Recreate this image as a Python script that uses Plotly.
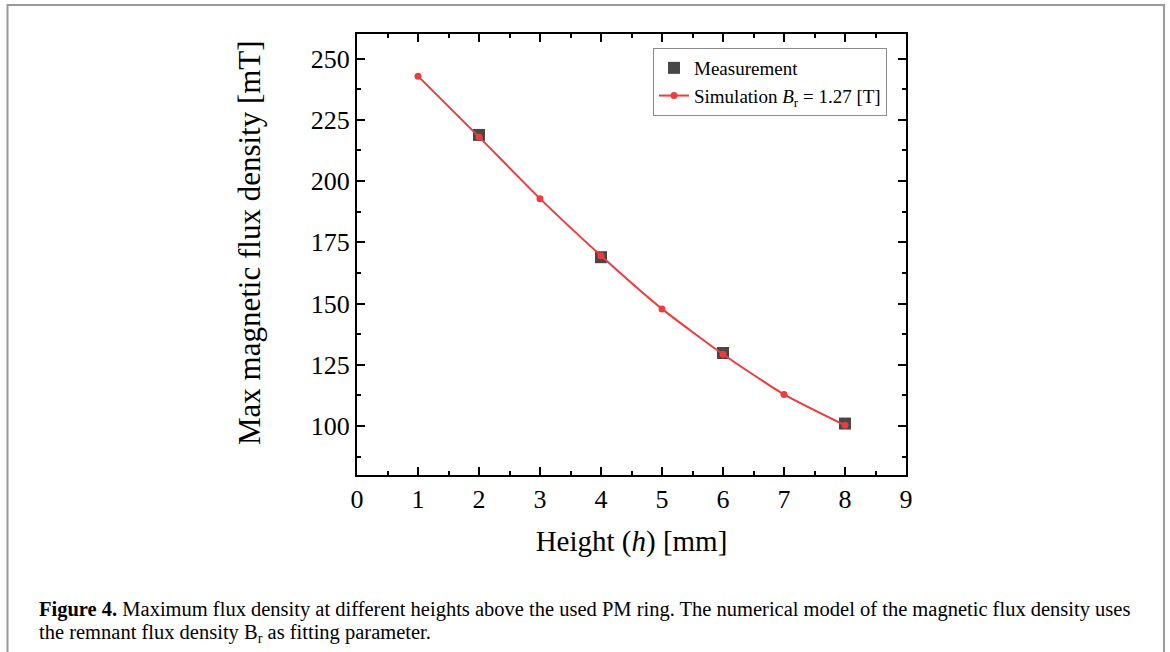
import plotly.graph_objects as go

# Heights above the PM ring [mm]
sim_height = [1, 2, 3, 4, 5, 6, 7, 8]
sim_flux = [242.8, 218.0, 192.8, 169.5, 147.8, 129.3, 112.9, 100.3]

meas_height = [2, 4, 6, 8]
meas_flux = [218.8, 168.9, 129.8, 101.0]

x_ticks = [0, 1, 2, 3, 4, 5, 6, 7, 8, 9]
y_ticks = [100, 125, 150, 175, 200, 225, 250]

W, H = 1170, 652
L, R, T, B = 357, 906, 34, 475
SERIF = "Liberation Serif, Times New Roman, serif"


def px_x(px):
    return (px - L) / (R - L)


def px_y(py):
    return (B - py) / (B - T)


fig = go.Figure()

fig.add_trace(go.Scatter(
    x=meas_height, y=meas_flux, mode="markers", name="Measurement",
    marker=dict(symbol="square", size=12, color="#474747"),
))
fig.add_trace(go.Scatter(
    x=sim_height, y=sim_flux, mode="lines+markers",
    name="Simulation <i>B</i><sub>r</sub> = 1.27 [T]",
    line=dict(color="#ee3b3b", width=2, shape="spline", smoothing=0.6),
    marker=dict(symbol="circle", size=7, color="#ee3b3b"),
))

axis_common = dict(
    showline=True, linecolor="black", linewidth=2, mirror="allticks",
    ticks="inside", ticklen=8, tickwidth=2, tickcolor="black",
    showgrid=False, zeroline=False,
    tickfont=dict(family=SERIF, size=26, color="black"),
)

fig.update_xaxes(
    range=[0, 9], tickvals=x_ticks, ticktext=[str(v) for v in x_ticks],
    minor=dict(dtick=0.5, ticks="inside", ticklen=4, tickwidth=2, tickcolor="black"),
    title=dict(text="Height (<i>h</i>) [mm]", font=dict(family=SERIF, size=29, color="black"), standoff=17),
    **axis_common,
)
fig.update_yaxes(
    range=[80, 260], tickvals=y_ticks, ticktext=[str(v) for v in y_ticks],
    minor=dict(dtick=12.5, ticks="inside", ticklen=4, tickwidth=2, tickcolor="black"),
    **axis_common,
)

# Y axis title
fig.add_annotation(
    xref="paper", yref="paper", x=px_x(249), y=px_y(243),
    xanchor="center", yanchor="middle", showarrow=False, textangle=-90,
    text="Max magnetic flux density [mT]",
    font=dict(family=SERIF, size=31, color="black"),
)

# Outer frame around the whole figure
fig.add_shape(type="rect", xref="paper", yref="paper",
              x0=px_x(7.5), x1=px_x(1164), y0=px_y(700), y1=px_y(5),
              line=dict(color="#9a9a9a", width=2), layer="below")

# Caption
fig.add_annotation(
    xref="paper", yref="paper", x=px_x(37), y=px_y(609),
    xanchor="left", yanchor="middle", showarrow=False, align="left",
    text="<b>Figure 4.</b> Maximum flux density at different heights above the used PM ring. "
         "The numerical model of the magnetic flux density uses",
    font=dict(family=SERIF, size=20.5, color="black"),
)
fig.add_annotation(
    xref="paper", yref="paper", x=px_x(37), y=px_y(633),
    xanchor="left", yanchor="middle", showarrow=False, align="left",
    text="the remnant flux density B<sub>r</sub> as fitting parameter.",
    font=dict(family=SERIF, size=20.5, color="black"),
)

fig.update_layout(
    width=W, height=H,
    margin=dict(l=L, r=W - R, t=T, b=H - B),
    paper_bgcolor="white", plot_bgcolor="white",
    showlegend=True,
    legend=dict(
        x=px_x(653), y=px_y(48), xanchor="left", yanchor="top",
        bgcolor="white", bordercolor="#8c8c8c", borderwidth=1,
        font=dict(family=SERIF, size=19, color="black"),
        itemwidth=30, tracegroupgap=0,
    ),
)

fig.write_html("out.html")
